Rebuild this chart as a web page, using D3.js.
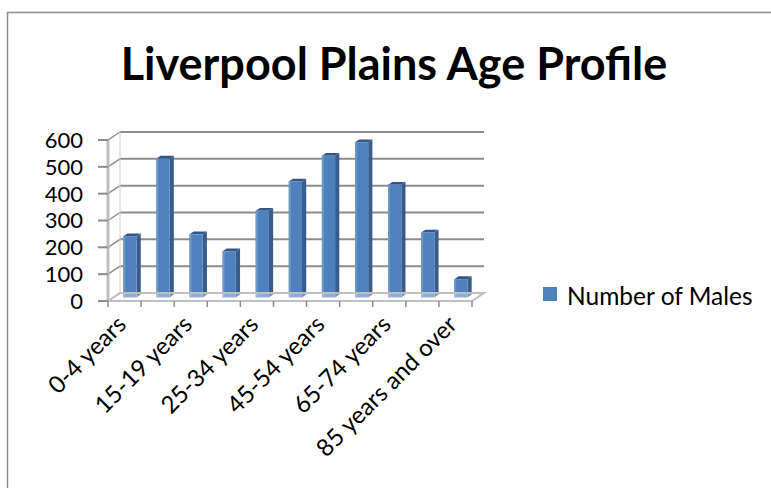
<!DOCTYPE html>
<meta charset="utf-8">
<style>
    body { margin: 0; background: #fff; font-family: Lato, "Open Sans", sans-serif; }
    .grid line { stroke: #8c8c8c; stroke-width: 2; }
    .tick-label { font-size: 24px; fill: #000; }
    .value-label { font-size: 22px; fill: #000; }
</style>
<svg width="771" height="488"></svg>
<script src="https://cdn.jsdelivr.net/npm/d3@7/dist/d3.min.js"></script>
<script>

    var categories = ["0-4 years", "5-14 years", "15-19 years", "20-24 years", "25-34 years",
                      "35-44 years", "45-54 years", "55-64 years", "65-74 years", "75-84 years",
                      "85 years and over"];
    var males = [228, 517, 235, 172, 323, 432, 528, 578, 420, 242, 68];
    var yTicks = [0, 100, 200, 300, 400, 500, 600];
    var seriesName = "Number of Males";
    var title = "Liverpool Plains Age Profile";

    var svg = d3.select("svg");

    // outer chart border (only top and left are inside the window)
    svg.append("rect")
        .attr("x", 7.5).attr("y", 12.5)
        .attr("width", 900).attr("height", 600)
        .attr("fill", "none")
        .attr("stroke", "#8c8c8c")
        .attr("stroke-width", 1.5);

    // 3d box: front plane and how far back the walls sit
    var depthX = 12, depthY = 8;

    var x = d3.scaleBand().domain(categories).range([108, 472]).padding(0);
    var y = d3.scaleLinear().domain([0, 600]).range([301, 140]);

    // offset a point to a given depth (0 = front, 1 = back wall)
    function dx(f) { return f * depthX; }
    function dy(f) { return -f * depthY; }

    // back wall gridlines
    var grid = svg.append("g").attr("class", "grid");
    grid.selectAll(".back")
        .data(yTicks.slice(1))
        .enter().append("line")
        .attr("x1", x.range()[0] + dx(1)).attr("x2", x.range()[1] + dx(1))
        .attr("y1", function(d) { return y(d) + dy(1); })
        .attr("y2", function(d) { return y(d) + dy(1); });

    // side wall gridlines
    grid.selectAll(".side")
        .data(yTicks)
        .enter().append("line")
        .attr("x1", x.range()[0]).attr("x2", x.range()[0] + dx(1))
        .attr("y1", function(d) { return y(d); })
        .attr("y2", function(d) { return y(d) + dy(1); })
        .style("stroke-width", 1.5);

    // back-left wall edge
    svg.append("line")
        .attr("x1", x.range()[0] + dx(1)).attr("x2", x.range()[0] + dx(1))
        .attr("y1", y(600) + dy(1)).attr("y2", y(0) + dy(1))
        .attr("stroke", "#d0d0d0").attr("stroke-width", 1);

    // bars
    var f1 = 0.45, f2 = 0.8;
    var bw = x.bandwidth() * 0.4;
    var bars = svg.append("g").selectAll("g")
        .data(males)
        .enter().append("g");

    function bx(i) { return x(categories[i]) + x.bandwidth() * 0.3; }

    // side face
    bars.append("path")
        .attr("fill", "#385d8a")
        .attr("d", function(d, i) {
            var x0 = bx(i) + bw;
            return "M" + (x0 + dx(f1)) + "," + (y(0) + dy(f1)) +
                "L" + (x0 + dx(f1)) + "," + (y(d) + dy(f1)) +
                "L" + (x0 + dx(f2)) + "," + (y(d) + dy(f2)) +
                "L" + (x0 + dx(f2)) + "," + (y(0) + dy(f2)) + "Z";
        });

    // top face
    bars.append("path")
        .attr("fill", "#345685")
        .attr("d", function(d, i) {
            var x0 = bx(i);
            return "M" + (x0 + dx(f1)) + "," + (y(d) + dy(f1)) +
                "L" + (x0 + bw + dx(f1)) + "," + (y(d) + dy(f1)) +
                "L" + (x0 + bw + dx(f2)) + "," + (y(d) + dy(f2)) +
                "L" + (x0 + dx(f2)) + "," + (y(d) + dy(f2)) + "Z";
        });

    // front face
    bars.append("rect")
        .attr("fill", "#4f81bd")
        .attr("x", function(d, i) { return bx(i) + dx(f1); })
        .attr("y", function(d) { return y(d) + dy(f1); })
        .attr("width", bw)
        .attr("height", function(d) { return y(0) - y(d); });

    // lighter strip on the left of the front face
    bars.append("rect")
        .attr("fill", "#6e97c9")
        .attr("x", function(d, i) { return bx(i) + dx(f1); })
        .attr("y", function(d) { return y(d) + dy(f1); })
        .attr("width", 2)
        .attr("height", function(d) { return y(0) - y(d); });

    // floor, drawn over the bar bottoms
    var fx0 = x.range()[0], fx1 = x.range()[1];
    svg.append("path")
        .attr("d", "M" + fx0 + "," + y(0) +
            "L" + (fx0 + dx(1)) + "," + (y(0) + dy(1)) +
            "L" + (fx1 + dx(1)) + "," + (y(0) + dy(1)) +
            "L" + fx1 + "," + y(0) + "Z")
        .attr("fill", "rgba(255,255,255,0.35)")
        .attr("stroke", "#bfbfbf")
        .attr("stroke-width", 2);

    // left value axis
    svg.append("line")
        .attr("x1", fx0).attr("x2", fx0)
        .attr("y1", y(600)).attr("y2", y(0))
        .attr("stroke", "#bfbfbf").attr("stroke-width", 3);

    svg.append("g").selectAll("line")
        .data(yTicks)
        .enter().append("line")
        .attr("x1", fx0 - 10).attr("x2", fx0)
        .attr("y1", function(d) { return y(d); })
        .attr("y2", function(d) { return y(d); })
        .attr("stroke", "#8c8c8c").attr("stroke-width", 2);

    svg.append("g").selectAll("text")
        .data(yTicks)
        .enter().append("text")
        .attr("class", "value-label")
        .attr("x", 83)
        .attr("y", function(d) { return y(d); })
        .attr("dy", "0.36em")
        .attr("text-anchor", "end")
        .text(function(d) { return d; });

    // category ticks
    var bounds = categories.map(function(c) { return x(c); }).concat([fx1]);
    svg.append("g").selectAll("line")
        .data(bounds)
        .enter().append("line")
        .attr("x1", function(d) { return d; }).attr("x2", function(d) { return d; })
        .attr("y1", y(0)).attr("y2", y(0) + 6)
        .attr("stroke", "#8c8c8c").attr("stroke-width", 1.5);

    // category labels, every other one
    svg.append("g").selectAll("text")
        .data(categories.filter(function(c, i) { return i % 2 === 0; }))
        .enter().append("text")
        .attr("class", "tick-label")
        .attr("text-anchor", "end")
        .attr("transform", function(d) {
            return "translate(" + (x(d) + x.bandwidth() / 2 + 3) + "," + (y(0) + 25) + ") rotate(-45)";
        })
        .text(function(d) { return d; });

    // title
    svg.append("text")
        .attr("x", 394).attr("y", 80)
        .attr("text-anchor", "middle")
        .style("font-size", "45px")
        .style("font-weight", "bold")
        .text(title);

    // legend
    var legend = svg.append("g").attr("transform", "translate(543,287)");
    legend.append("rect")
        .attr("width", 14).attr("height", 14)
        .attr("fill", "#4f81bd");
    legend.append("text")
        .attr("x", 24).attr("y", 18)
        .style("font-size", "24.5px")
        .text(seriesName);

</script>
